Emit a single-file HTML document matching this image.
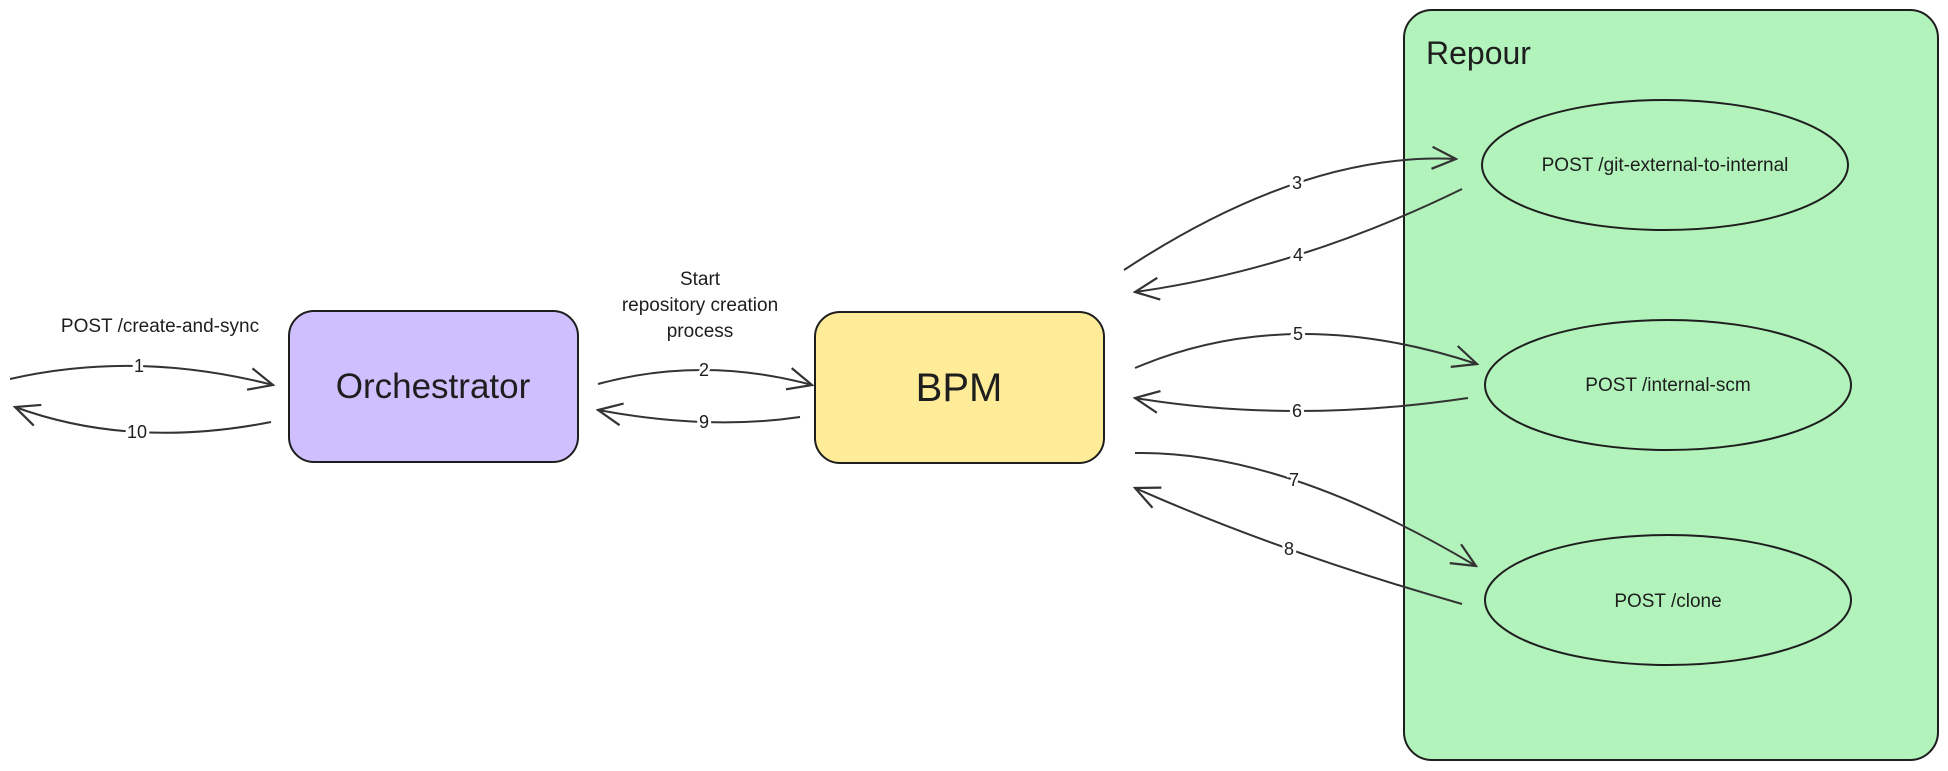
<!DOCTYPE html>
<html><head><meta charset="utf-8"><style>
html,body{margin:0;padding:0;background:#fff;}
svg{display:block;}
text{font-family:"Liberation Sans",sans-serif;fill:#1e1e1e;}
.lbl{font-size:18px;paint-order:stroke;stroke:#fff;stroke-width:6px;}
</style></head><body>
<svg width="1948" height="771" viewBox="0 0 1948 771" xmlns="http://www.w3.org/2000/svg">
<defs>
<marker id="ah" viewBox="0 0 28 28" refX="26" refY="14" markerWidth="28" markerHeight="28" markerUnits="userSpaceOnUse" orient="auto">
<polyline points="2,3 26,14 2,25" fill="none" stroke="#333" stroke-width="2.2"/>
</marker>
</defs>
<rect x="1404" y="10" width="534" height="750" rx="28" fill="#b2f2bb" stroke="#1e1e1e" stroke-width="2"/>
<text x="1426" y="64" font-size="32">Repour</text>
<ellipse cx="1665" cy="165" rx="183" ry="65" fill="#b2f2bb" stroke="#1e1e1e" stroke-width="2"/>
<ellipse cx="1668" cy="385" rx="183" ry="65" fill="#b2f2bb" stroke="#1e1e1e" stroke-width="2"/>
<ellipse cx="1668" cy="600" rx="183" ry="65" fill="#b2f2bb" stroke="#1e1e1e" stroke-width="2"/>
<text x="1665" y="171" font-size="19" text-anchor="middle">POST /git-external-to-internal</text>
<text x="1668" y="391" font-size="19" text-anchor="middle">POST /internal-scm</text>
<text x="1668" y="607" font-size="19" text-anchor="middle">POST /clone</text>
<rect x="289" y="311" width="289" height="151" rx="25" fill="#d0bfff" stroke="#1e1e1e" stroke-width="2"/>
<text x="433" y="398" font-size="35" text-anchor="middle">Orchestrator</text>
<rect x="815" y="312" width="289" height="151" rx="25" fill="#ffec99" stroke="#1e1e1e" stroke-width="2"/>
<text x="959" y="401" font-size="40" text-anchor="middle">BPM</text>
<text x="160" y="332" font-size="19" text-anchor="middle">POST /create-and-sync</text>
<text x="700" y="285" font-size="19" text-anchor="middle">Start</text>
<text x="700" y="311" font-size="19" text-anchor="middle">repository creation</text>
<text x="700" y="337" font-size="19" text-anchor="middle">process</text>
<g fill="none" stroke="#333" stroke-width="2" marker-end="url(#ah)">
<path d="M10,379 Q136.5,350 273,385"/>
<path d="M271,422 Q131,449.5 15,407"/>
<path d="M598,384 Q703,355.5 812,385"/>
<path d="M800,417 Q709,430.5 598,410"/>
<path d="M1124,270 Q1304,151.5 1456,159"/>
<path d="M1462,189 Q1297.5,269.5 1135,292"/>
<path d="M1135,368 Q1290,302 1477,364"/>
<path d="M1468,398 Q1292.5,424 1135,398"/>
<path d="M1135,453 Q1282.5,450.5 1476,566"/>
<path d="M1462,604 Q1279.5,552 1135,488"/>
</g>
<g text-anchor="middle">
<text class="lbl" x="139" y="372">1</text>
<text class="lbl" x="137" y="438">10</text>
<text class="lbl" x="704" y="376">2</text>
<text class="lbl" x="704" y="428">9</text>
<text class="lbl" x="1297" y="189">3</text>
<text class="lbl" x="1298" y="261">4</text>
<text class="lbl" x="1298" y="340">5</text>
<text class="lbl" x="1297" y="417">6</text>
<text class="lbl" x="1294" y="486">7</text>
<text class="lbl" x="1289" y="555">8</text>
</g>
</svg>
</body></html>
